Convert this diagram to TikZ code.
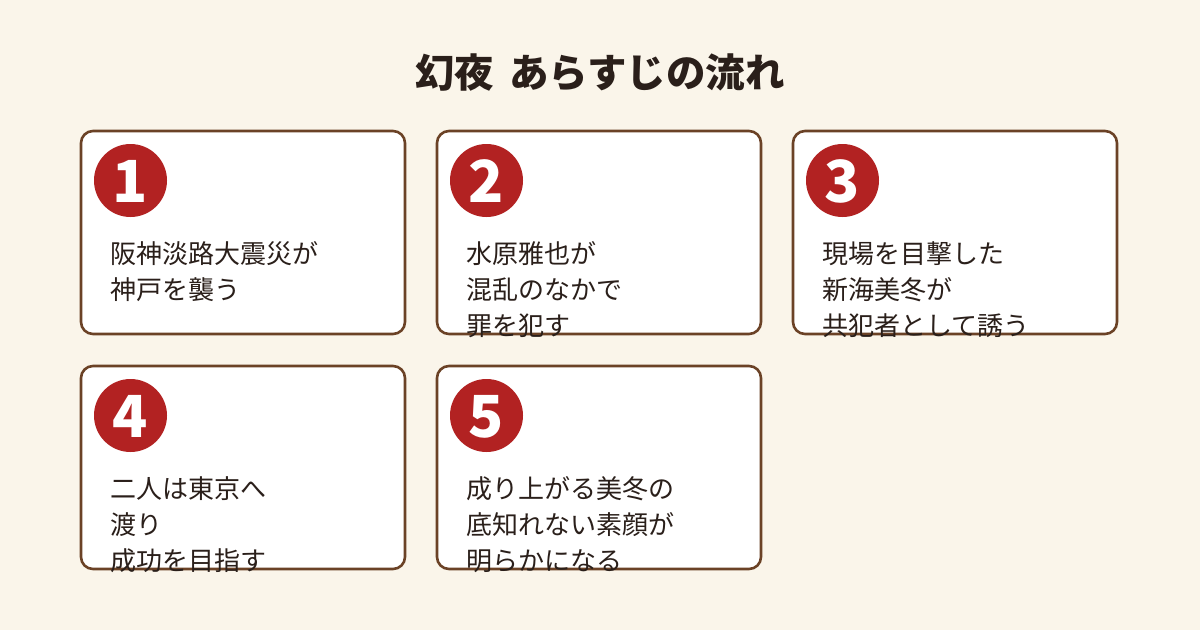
\documentclass[tikz,border=0pt]{standalone}
\usepackage{fontspec}
\setmainfont{Noto Sans CJK JP}
\definecolor{bgc}{HTML}{FAF5EA}
\definecolor{brd}{HTML}{6B4226}
\definecolor{numred}{HTML}{B22222}
\definecolor{ink}{HTML}{2A1F1A}
\tikzset{
  card/.style={draw=brd, line width=2.6pt, fill=white, rounded corners=12pt},
  numdisc/.style={fill=numred, draw=none},
  numtxt/.style={text=white, font=\fontsize{58}{58}\selectfont\bfseries, inner sep=0pt, anchor=base},
  bodytxt/.style={text=ink, font=\fontsize{26}{36}\selectfont, align=left, inner sep=0pt, anchor=base west},
  titletxt/.style={text=ink, font=\fontsize{39.5}{44}\selectfont\bfseries, inner sep=0pt, anchor=base}
}
\begin{document}
\begin{tikzpicture}[x=1pt,y=-1pt]
\fill[bgc] (0,0) rectangle (1200,630);
\useasboundingbox (0,0) rectangle (1200,630);
\node[titletxt] (title) at (600,87) {幻夜\hspace{6pt} あらすじの流れ};
% cards: number, left x, top y, line count, text
\foreach \n/\lx/\ty/\k/\txt in {
  1/81/131/2/{阪神淡路大震災が\\神戸を襲う},
  2/437/131/3/{水原雅也が\\混乱のなかで\\罪を犯す},
  3/793/131/3/{現場を目撃した\\新海美冬が\\共犯者として誘う},
  4/81/366/3/{二人は東京へ\\渡り\\成功を目指す},
  5/437/366/3/{成り上がる美冬の\\底知れない素顔が\\明らかになる}} {
  \draw[card] (\lx,\ty) rectangle ++(324,203);
  \node[bodytxt] (body\n) at (\lx+29,\ty+132+36*\k-36) {\txt};
  \fill[numdisc] (\lx+49.5,\ty+49.5) circle (36.5);
  \node[numtxt] (num\n) at (\lx+49.5,\ty+71) {\n};
}
\end{tikzpicture}
\end{document}
